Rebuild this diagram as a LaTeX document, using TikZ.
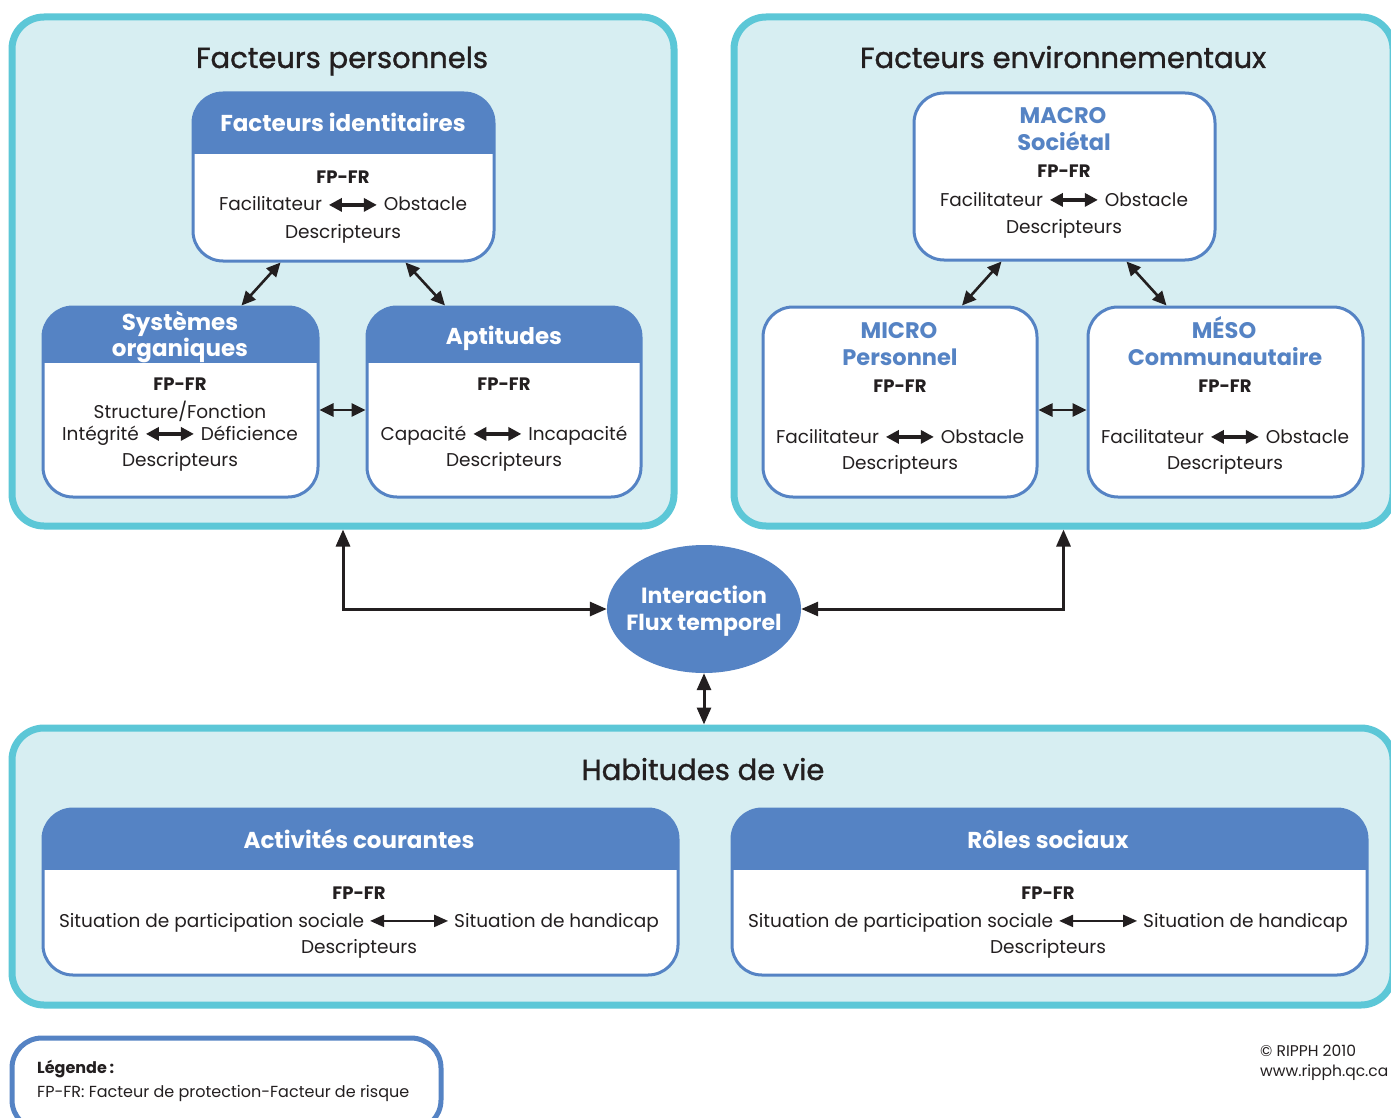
\documentclass[tikz,border=0pt]{standalone}
\usepackage{fontspec}
\setmainfont{Poppins}
\newfontfamily\medfont{Poppins}[FakeBold=1.2]
\usetikzlibrary{arrows.meta,positioning,calc,shapes.geometric}
\definecolor{ribg}{HTML}{D7EEF2}
\definecolor{riteal}{HTML}{5CC7D7}
\definecolor{riblue}{HTML}{5583C4}
\definecolor{riink}{HTML}{231F20}
% short thick double arrow used inside the text lines
\newcommand{\dblarr}{\tikz[baseline=-0.6ex]\draw[riink,line width=4pt,
  {Triangle[length=13pt,width=13pt]}-{Triangle[length=13pt,width=13pt]}] (0pt,0pt) -- (48pt,0pt);}
\newcommand{\longarr}{\tikz[baseline=-0.6ex]\draw[riink,line width=2.2pt,
  {Triangle[length=14pt,width=12pt]}-{Triangle[length=14pt,width=12pt]}] (0pt,0pt) -- (78pt,0pt);}
\tikzset{
  panel/.style={draw=riteal, line width=7pt, fill=ribg, rounded corners=32pt, inner sep=0pt},
  hdbox/.style={draw=riblue, line width=3pt, fill=white, rounded corners=30pt, inner sep=0pt,
    path picture={\fill[riblue, sharp corners] (path picture bounding box.north west)
      rectangle ([yshift=-#1]path picture bounding box.north east);}},
  plainbox/.style={draw=riblue, line width=3pt, fill=white, rounded corners=30pt, inner sep=0pt},
  ptitle/.style={anchor=base, inner sep=0pt, text=riink, font=\medfont\fontsize{29}{33}\selectfont},
  hdtxt/.style={anchor=base, inner sep=0pt, text=white, font=\bfseries\fontsize{23}{27}\selectfont},
  lvtxt/.style={anchor=base, inner sep=0pt, text=riblue, font=\bfseries\fontsize{22.5}{27}\selectfont},
  fptxt/.style={anchor=base, inner sep=0pt, text=riink, font=\bfseries\fontsize{18}{22}\selectfont},
  bodytxt/.style={anchor=base, inner sep=0pt, text=riink, font=\fontsize{18.5}{22}\selectfont},
  smalltxt/.style={anchor=base west, inner sep=0pt, text=riink, font=\fontsize{16}{19}\selectfont},
  arr/.style={{Triangle[length=14pt,width=13pt]}-{Triangle[length=14pt,width=13pt]},
    line width=2.6pt, color=riink},
  elbarr/.style={{Triangle[length=17pt,width=14pt]}-{Triangle[length=17pt,width=14pt]},
    line width=3pt, color=riink}}
\begin{document}
\begin{tikzpicture}[x=1pt,y=-1pt]
\useasboundingbox[fill=white] (0,0) rectangle (1391,1118);

% three big panels and the legend
\node[panel, minimum width=662pt, minimum height=509pt] (pers) at (343,271.5) {};
\node[panel, minimum width=659pt, minimum height=509pt] (envi) at (1063.5,271.5) {};
\node[panel, minimum width=1381pt, minimum height=277pt] (habit) at (702.5,866.5) {};
\node[plainbox, line width=5pt, minimum width=429pt, minimum height=92pt] (legend) at (226.5,1084) {};

\node[ptitle] (perstitle) at (342,68) {Facteurs personnels};
\node[ptitle] (envititle) at (1063,68) {Facteurs environnementaux};
\node[ptitle] (habittitle) at (703,780) {Habitudes de vie};

% personal factors
\node[hdbox=61pt, minimum width=301pt, minimum height=168pt] (ident) at (343.5,177) {};
\node[hdbox=56pt, minimum width=275pt, minimum height=190pt] (sys) at (180.5,402) {};
\node[hdbox=56pt, minimum width=274pt, minimum height=190pt] (apt) at (504,402) {};

\node[hdtxt] (identhd) at (343,132) {Facteurs identitaires};
\node[fptxt] (identfp) at (343,183) {FP-FR};
\node[bodytxt] (identfo) at (343,211) {Facilitateur \dblarr{} Obstacle};
\node[bodytxt] (identde) at (343,238) {Descripteurs};

\node[hdtxt] (syshd) at (180,330) {Systèmes};
\node[hdtxt] (syshdb) at (180,356) {organiques};
\node[fptxt] (sysfp) at (180,390) {FP-FR};
\node[bodytxt] (syssf) at (180,418) {Structure/Fonction};
\node[bodytxt] (sysid) at (180,440) {Intégrité \dblarr{} Déficience};
\node[bodytxt] (sysde) at (180,466) {Descripteurs};

\node[hdtxt] (apthd) at (504,344) {Aptitudes};
\node[fptxt] (aptfp) at (504,390) {FP-FR};
\node[bodytxt] (aptci) at (504,440) {Capacité \dblarr{} Incapacité};
\node[bodytxt] (aptde) at (504,466) {Descripteurs};

\draw[arr] ([xshift=-63pt]ident.south) -- ([xshift=61pt]sys.north);
\draw[arr] ([xshift=62pt]ident.south) -- ([xshift=-59pt]apt.north);
\draw[arr] ([yshift=-8pt]sys.east) -- ([yshift=-8pt]apt.west);

% environmental factors
\node[plainbox, minimum width=301pt, minimum height=167pt] (macro) at (1064.5,176.5) {};
\node[plainbox, minimum width=274pt, minimum height=190pt] (micro) at (900,402) {};
\node[plainbox, minimum width=275pt, minimum height=190pt] (meso) at (1225.5,402) {};

\node[lvtxt] (macrohd) at (1063,124) {MACRO};
\node[lvtxt] (macrohdb) at (1064,151) {Sociétal};
\node[fptxt] (macrofp) at (1064,178) {FP-FR};
\node[bodytxt] (macrofo) at (1064,206) {Facilitateur \dblarr{} Obstacle};
\node[bodytxt] (macrode) at (1064,233) {Descripteurs};

\node[lvtxt] (microhd) at (899,338) {MICRO};
\node[lvtxt] (microhdb) at (900,365) {Personnel};
\node[fptxt] (microfp) at (900,392) {FP-FR};
\node[bodytxt] (microfo) at (900,443) {Facilitateur \dblarr{} Obstacle};
\node[bodytxt] (microde) at (900,469) {Descripteurs};

\node[lvtxt] (mesohd) at (1224,338) {MÉSO};
\node[lvtxt] (mesohdb) at (1225,365) {Communautaire};
\node[fptxt] (mesofp) at (1225,392) {FP-FR};
\node[bodytxt] (mesofo) at (1225,443) {Facilitateur \dblarr{} Obstacle};
\node[bodytxt] (mesode) at (1225,469) {Descripteurs};

\draw[arr] ([xshift=-63pt]macro.south) -- ([xshift=62pt]micro.north);
\draw[arr] ([xshift=62pt]macro.south) -- ([xshift=-59pt]meso.north);
\draw[arr] ([yshift=-8pt]micro.east) -- ([yshift=-8pt]meso.west);

% interaction
\node[ellipse, fill=riblue, minimum width=194pt, minimum height=128pt, inner sep=0pt] (inter) at (704,609) {};
\node[align=center, text=white, inner sep=0pt, font=\bfseries\fontsize{22}{27}\selectfont] (intertx)
  at (704,611) {Interaction\\Flux temporel};
\draw[elbarr] (pers.south) |- (inter.west);
\draw[elbarr] (envi.south) |- (inter.east);
\draw[elbarr] (inter.south) -- (inter.south |- habit.north);

% life habits
\node[hdbox=61pt, minimum width=635pt, minimum height=166pt] (act) at (360.5,892) {};
\node[hdbox=61pt, minimum width=635pt, minimum height=166pt] (roles) at (1049.5,892) {};

\node[hdtxt] (acthd) at (359,848) {Activités courantes};
\node[fptxt] (actfp) at (359,899) {FP-FR};
\node[bodytxt] (actsp) at (359,927) {Situation de participation sociale \longarr{} Situation de handicap};
\node[bodytxt] (actde) at (359,953) {Descripteurs};

\node[hdtxt] (roleshd) at (1048,848) {Rôles sociaux};
\node[fptxt] (rolesfp) at (1048,899) {FP-FR};
\node[bodytxt] (rolessp) at (1048,927) {Situation de participation sociale \longarr{} Situation de handicap};
\node[bodytxt] (rolesde) at (1048,953) {Descripteurs};

% legend and credits
\node[smalltxt, font=\bfseries\fontsize{16}{19}\selectfont] (leghd) at (37,1073) {Légende\,:};
\node[smalltxt] (legtx) at (37,1097) {FP-FR: Facteur de protection-Facteur de risque};
\node[smalltxt, font=\fontsize{15.5}{18}\selectfont] (copy) at (1260,1056) {© RIPPH 2010};
\node[smalltxt, font=\fontsize{15.5}{18}\selectfont] (site) at (1260,1076) {www.ripph.qc.ca};
\end{tikzpicture}
\end{document}
